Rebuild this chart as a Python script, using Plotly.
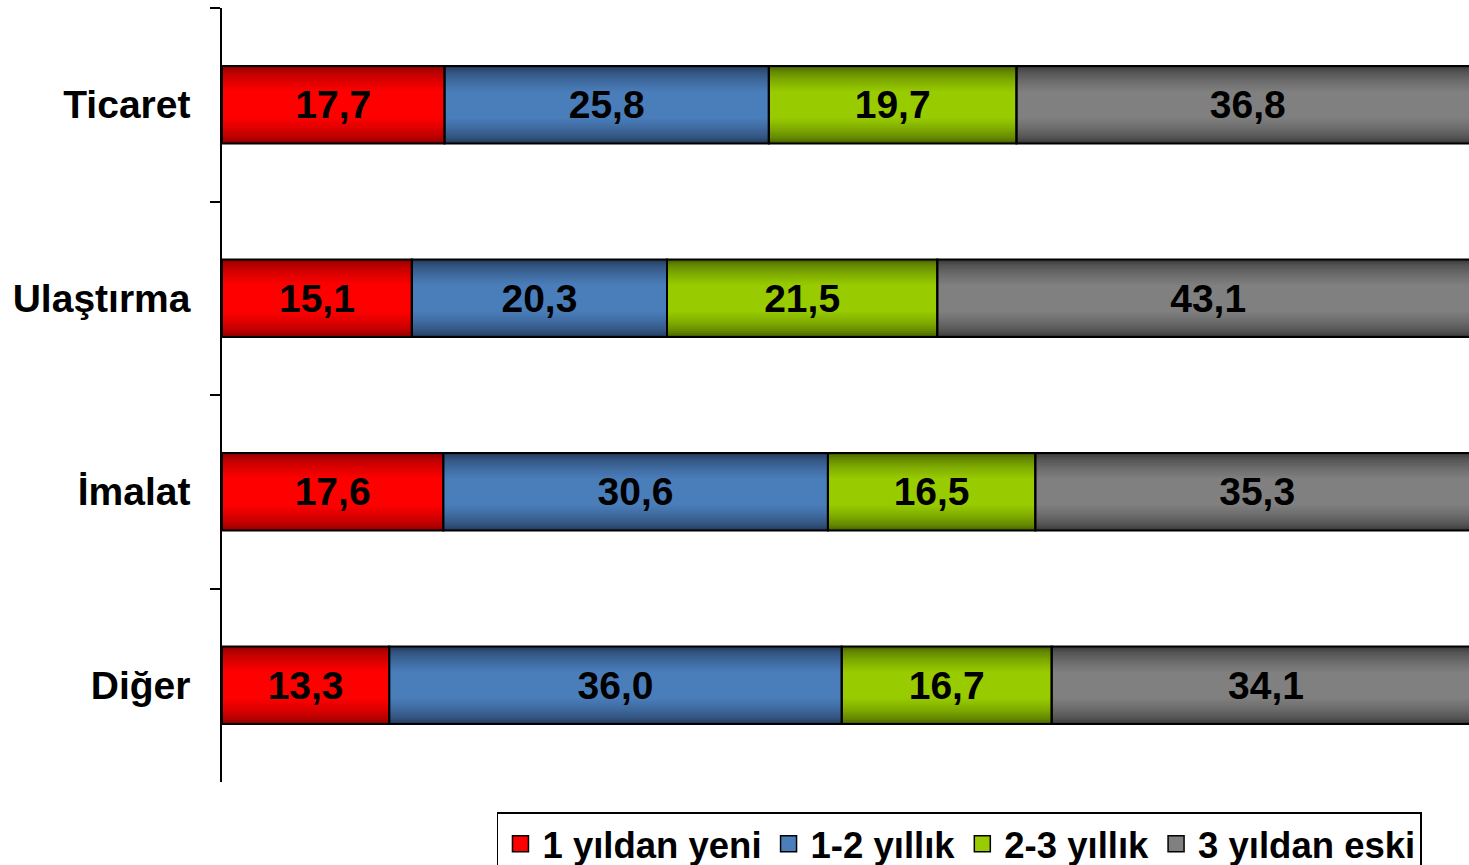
import plotly.graph_objects as go

categories = ["Ticaret", "Ulaştırma", "İmalat", "Diğer"]
series_names = ["1 yıldan yeni", "1-2 yıllık", "2-3 yıllık", "3 yıldan eski"]
yeni = [17.7, 15.1, 17.6, 13.3]
yil_1_2 = [25.8, 20.3, 30.6, 36.0]
yil_2_3 = [19.7, 21.5, 16.5, 16.7]
eski = [36.8, 43.1, 35.3, 34.1]

bright = ["#FF0000", "#4A7EBB", "#99CC00", "#808080"]
dark = ["#8C0000", "#223858", "#456000", "#383838"]

series = [yeni, yil_1_2, yil_2_3, eski]


def hex2rgb(h):
    h = h.lstrip("#")
    return [int(h[i:i + 2], 16) for i in (0, 2, 4)]


def mix(c1, c2, t):
    a, b = hex2rgb(c1), hex2rgb(c2)
    return "rgb(%d,%d,%d)" % tuple(round(a[i] + (b[i] - a[i]) * t) for i in range(3))


BAR_W = 0.4
N_LAYERS = 14
layer_widths = [BAR_W - i * (BAR_W - 0.14) / (N_LAYERS - 1) for i in range(N_LAYERS)]

fig = go.Figure()

# cumulative bases from the data
bases = []
running = [0.0] * len(categories)
for vals in series:
    bases.append(list(running))
    running = [r + v for r, v in zip(running, vals)]

# gradient layers
for s, vals in enumerate(series):
    for i, w in enumerate(layer_widths):
        t = (i / (N_LAYERS - 1)) ** 0.6
        fig.add_trace(go.Bar(
            y=categories, x=vals, base=bases[s], orientation="h", width=w,
            marker=dict(color=mix(dark[s], bright[s], t), line=dict(width=0)),
            showlegend=False, hoverinfo="skip",
        ))

# outlines + labels
for s, vals in enumerate(series):
    fig.add_trace(go.Bar(
        y=categories, x=vals, base=bases[s], orientation="h", width=BAR_W,
        name=series_names[s],
        marker=dict(color="rgba(0,0,0,0)", line=dict(color="#000000", width=2)),
        texttemplate="%{x:.1f}", textposition="inside", insidetextanchor="middle",
        textangle=0, constraintext="none",
        textfont=dict(family="Liberation Sans", size=39, color="#000000", weight="bold"),
        showlegend=False,
    ))

# legend entries
for s in range(len(series)):
    fig.add_trace(go.Scatter(
        y=[None], x=[None], mode="markers", name=series_names[s],
        marker=dict(symbol="square", size=20, color=bright[s],
                    line=dict(color="#000000", width=1.5)),
        showlegend=True,
    ))

fig.update_layout(
    barmode="overlay",
    separators=",.",
    width=1469, height=865,
    margin=dict(l=222, r=0, t=8, b=83, autoexpand=False),
    plot_bgcolor="white", paper_bgcolor="white",
    font=dict(family="Liberation Sans", color="#000000"),
    showlegend=True,
    legend=dict(
        orientation="h", x=0.2205, y=-0.0388, xanchor="left", yanchor="top",
        traceorder="normal",
        font=dict(family="Liberation Sans", size=36.5, color="#000000", weight="bold"),
        bordercolor="#000000", borderwidth=1.5, bgcolor="white",
        itemwidth=34,
    ),
    xaxis=dict(range=[0, 99.2], visible=False, fixedrange=True, automargin=False),
    yaxis=dict(
        categoryorder="array", categoryarray=categories,
        range=[3.5, -0.5], tickson="boundaries",
        ticks="outside", ticklen=10, tickcolor="#000000", tickwidth=1.5,
        showline=True, linecolor="#000000", linewidth=1.5,
        showgrid=False, zeroline=False, automargin=False,
        ticklabelstandoff=22,
        tickfont=dict(family="Liberation Sans", size=39, color="#000000", weight="bold"),
    ),
)

fig.write_html(
    "out.html",
    config={"displayModeBar": False},
    post_script="document.body.style.margin='0';document.body.style.overflow='hidden';",
)
